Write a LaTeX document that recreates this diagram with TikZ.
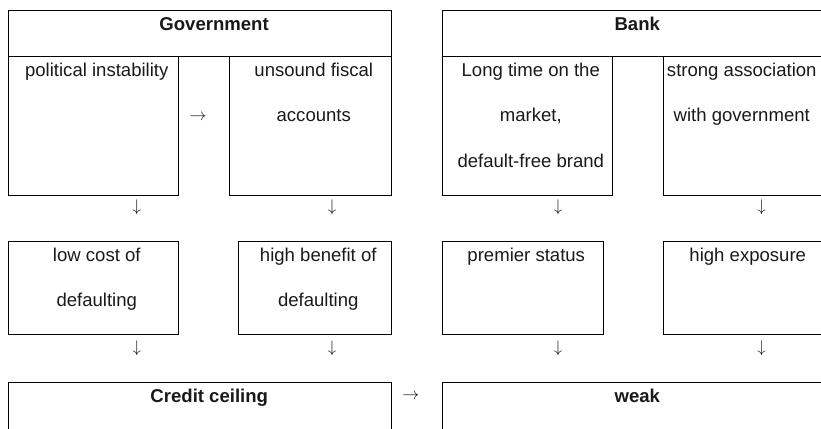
\documentclass[tikz,border=0pt]{standalone}
\usepackage{fontspec}
\setmainfont{Liberation Sans}
\begin{document}
\begin{tikzpicture}[
    y=-1cm, % y grows downward
    font=\fontsize{13.2}{32.7}\selectfont,
    box/.style={draw, line width=0.8pt, anchor=north west, inner sep=0pt},
    txt/.style={anchor=base, inner sep=0pt, text=black!90, xshift=0.08cm},
    head/.style={txt, font=\fontsize{13.2}{32.7}\selectfont\bfseries},
    sym/.style={inner sep=0pt, text=black!90}
]
\clip (0,0) rectangle (20.525,10.7);

% Government
\node[box, minimum width=9.575cm, minimum height=1.15cm] (gov) at (0.2,0.25) {};
\node[box, minimum width=4.25cm, minimum height=3.475cm] (instab) at (0.2,1.4) {};
\node[box, minimum width=4.05cm, minimum height=3.475cm] (fiscal) at (5.725,1.4) {};
\node[head, xshift=0.27cm] (govtxt) at ([yshift=-0.5cm]gov.north) {Government};
\node[txt] (instabtxt) at ([yshift=-0.5cm]instab.north) {political instability};
\node[txt] (fiscaltxt) at ([yshift=-0.5cm]fiscal.north) {
    \begin{tabular}[t]{@{}c@{}}
        unsound fiscal \\
        accounts \\
    \end{tabular}
};

% Bank
\node[box, minimum width=9.575cm, minimum height=1.15cm] (bank) at (11.05,0.25) {};
\node[box, minimum width=4.25cm, minimum height=3.475cm] (brand) at (11.05,1.4) {};
\node[box, minimum width=4.05cm, minimum height=3.475cm] (assoc) at (16.575,1.4) {};
\node[head] (banktxt) at ([yshift=-0.5cm]bank.north) {Bank};
\node[txt] (brandtxt) at ([yshift=-0.5cm]brand.north) {
    \begin{tabular}[t]{@{}c@{}}
        Long time on the \\
        market, \\
        default-free brand \\
    \end{tabular}
};
\node[txt, xshift=-0.15cm] (assoctxt) at ([yshift=-0.5cm]assoc.north) {
    \begin{tabular}[t]{@{}c@{}}
        strong association \\
        with government \\
    \end{tabular}
};

% second row
\node[box, minimum width=4.25cm, minimum height=2.325cm] (cost) at (0.2,6.025) {};
\node[box, minimum width=3.825cm, minimum height=2.325cm] (benefit) at (5.95,6.025) {};
\node[box, minimum width=4.025cm, minimum height=2.325cm] (premier) at (11.05,6.025) {};
\node[box, minimum width=4.05cm, minimum height=2.325cm] (expo) at (16.575,6.025) {};
\node[txt] (costtxt) at ([yshift=-0.5cm]cost.north) {
    \begin{tabular}[t]{@{}c@{}}
        low cost of \\
        defaulting \\
    \end{tabular}
};
\node[txt] (benefittxt) at ([yshift=-0.5cm]benefit.north) {
    \begin{tabular}[t]{@{}c@{}}
        high benefit of \\
        defaulting \\
    \end{tabular}
};
\node[txt] (premiertxt) at ([yshift=-0.5cm]premier.north) {premier status};
\node[txt] (expotxt) at ([yshift=-0.5cm]expo.north) {high exposure};

% third row
\node[box, minimum width=9.575cm, minimum height=2.5cm] (ceiling) at (0.2,9.55) {};
\node[box, minimum width=9.575cm, minimum height=2.5cm] (weak) at (11.05,9.55) {};
\node[head, xshift=0.15cm] (ceilingtxt) at ([yshift=-0.5cm]ceiling.north) {Credit ceiling};
\node[head] (weaktxt) at ([yshift=-0.5cm]weak.north) {weak};

% arrow signs
\node[sym] (r1) at (4.95,2.925) {$\rightarrow$};
\node[sym] (r2) at (10.27,9.92) {$\rightarrow$};
\node[sym] (d1) at (3.42,5.175) {$\downarrow$};
\node[sym] (d2) at (8.3,5.175) {$\downarrow$};
\node[sym] (d3) at (13.95,5.175) {$\downarrow$};
\node[sym] (d4) at (19.04,5.175) {$\downarrow$};
\node[sym] (d5) at (3.42,8.7) {$\downarrow$};
\node[sym] (d6) at (8.3,8.7) {$\downarrow$};
\node[sym] (d7) at (13.95,8.7) {$\downarrow$};
\node[sym] (d8) at (19.04,8.7) {$\downarrow$};

\end{tikzpicture}
\end{document}
